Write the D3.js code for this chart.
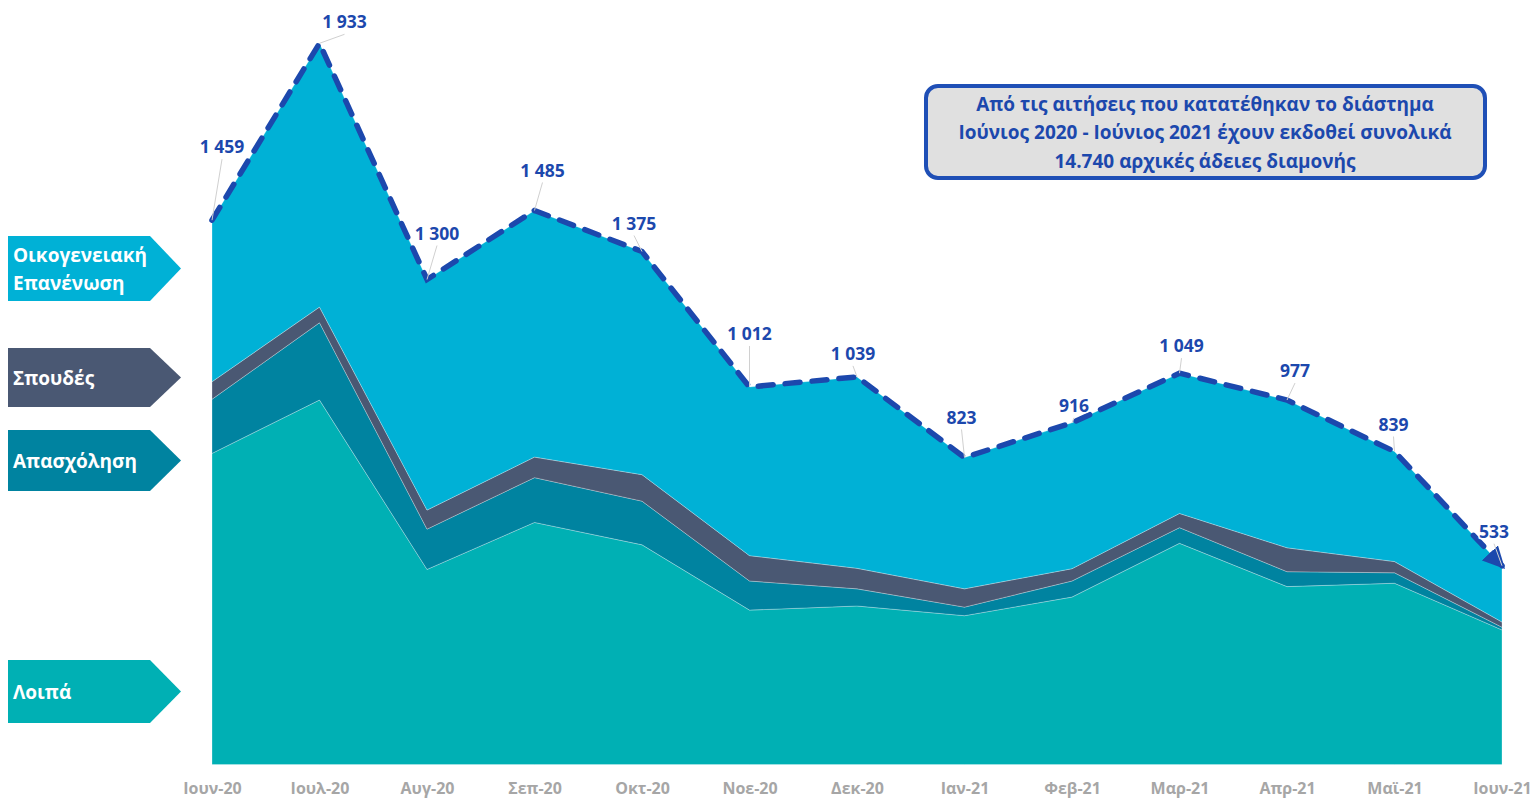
<!DOCTYPE html>
<html>
<head>
<meta charset="utf-8">
<script src="https://cdn.jsdelivr.net/npm/d3@7"></script>
<style>
  body { margin: 0; background: #fff; }
  svg { display: block; font-family: "Open Sans", sans-serif; }
</style>
</head>
<body>
<div id="chart"></div>
<script>
// chart size
const width = 1536;
const height = 801;

// months on the x axis
const months = ["Ιουν-20", "Ιουλ-20", "Αυγ-20", "Σεπ-20", "Οκτ-20", "Νοε-20", "Δεκ-20",
  "Ιαν-21", "Φεβ-21", "Μαρ-21", "Απρ-21", "Μαϊ-21", "Ιουν-21"];

// series values
const loipa      = [834, 977, 523, 649, 589, 414, 425, 399, 449, 593, 477, 486, 361];
const apasxolisi = [145, 207, 108, 120, 117,  78,  46,  23,  43,  42,  40,  28,   7];
const spoudes    = [ 47,  42,  51,  55,  71,  68,  55,  49,  33,  38,  64,  30,  14];
const oikogeneia = [433, 707, 618, 661, 598, 452, 513, 352, 391, 376, 396, 295, 151];
const totals     = [1459, 1933, 1300, 1485, 1375, 1012, 1039, 823, 916, 1049, 977, 839, 533];

// where each total label sits relative to its point [dx, dy]
const labelOffsets = [[10, -73], [25, -21], [10, -46], [8, -40], [-8, -28], [0, -53], [-4, -23],
  [-3, -40], [2, -17], [2, -27], [8, -29], [-1, -27], [-8, -34]];

// layer names / colors (bottom to top)
const layers = [
  {key: "loipa", name: ["Λοιπά"], color: "#00b0b4", legendY: [660, 723]},
  {key: "apasxolisi", name: ["Απασχόληση"], color: "#0083a0", legendY: [430, 491]},
  {key: "spoudes", name: ["Σπουδές"], color: "#4a5873", legendY: [348, 407]},
  {key: "oikogeneia", name: ["Οικογενειακή", "Επανένωση"], color: "#00b1d6", legendY: [236, 301]}
];

const boxText = [
  "Από τις αιτήσεις που κατατέθηκαν  το διάστημα",
  "Ιούνιος 2020 - Ιούνιος 2021 έχουν εκδοθεί συνολικά",
  "14.740 αρχικές άδειες διαμονής"
];

const blue = "#1c48ad";

const svg = d3.select("#chart")
  .append("svg")
  .attr("width", width)
  .attr("height", height);

// table for the stack
const table = months.map((m, i) => ({
  month: m,
  loipa: loipa[i],
  apasxolisi: apasxolisi[i],
  spoudes: spoudes[i],
  oikogeneia: oikogeneia[i]
}));

const x = d3.scalePoint()
  .domain(months)
  .range([212, 1502]);

const y = d3.scaleLinear()
  .domain([0, 2000])
  .range([764.6, 18.3]);

const stack = d3.stack().keys(layers.map(d => d.key));
const series = stack(table);

const area = d3.area()
  .x(d => x(d.data.month))
  .y0(d => y(d[0]))
  .y1(d => y(d[1]));

svg.selectAll(".layer")
  .data(series)
  .enter()
  .append("path")
  .attr("class", "layer")
  .attr("d", area)
  .attr("fill", (d, i) => layers[i].color)
  .attr("stroke", "rgba(255,255,255,0.35)")
  .attr("stroke-width", 0.8);

// arrow head at the end of the total line
svg.append("defs")
  .append("marker")
  .attr("id", "arrow")
  .attr("viewBox", "0 0 10 10")
  .attr("refX", 8)
  .attr("refY", 5)
  .attr("markerWidth", 4)
  .attr("markerHeight", 4)
  .attr("markerUnits", "strokeWidth")
  .attr("orient", "auto")
  .append("path")
  .attr("d", "M0,0 L10,5 L0,10 z")
  .attr("fill", blue);

// dashed total line
const line = d3.line()
  .x((d, i) => x(months[i]))
  .y(d => y(d));

svg.append("path")
  .datum(totals)
  .attr("d", line)
  .attr("fill", "none")
  .attr("stroke", blue)
  .attr("stroke-width", 5.5)
  .attr("stroke-dasharray", "15,12")
  .attr("stroke-linecap", "round")
  .attr("marker-end", "url(#arrow)");

// leader lines + labels for totals
const fmt = v => d3.format(",")(v).replace(",", " ");

svg.selectAll(".leader")
  .data(totals)
  .enter()
  .append("line")
  .attr("class", "leader")
  .attr("x1", (d, i) => x(months[i]))
  .attr("y1", d => y(d))
  .attr("x2", (d, i) => x(months[i]) + labelOffsets[i][0])
  .attr("y2", (d, i) => y(d) + labelOffsets[i][1] + 12)
  .attr("stroke", "#d0d0d0")
  .attr("stroke-width", 1);

svg.selectAll(".totLabel")
  .data(totals)
  .enter()
  .append("text")
  .attr("class", "totLabel")
  .attr("x", (d, i) => x(months[i]) + labelOffsets[i][0])
  .attr("y", (d, i) => y(d) + labelOffsets[i][1])
  .attr("dy", "0.35em")
  .attr("text-anchor", "middle")
  .attr("font-size", "17.5px")
  .attr("font-weight", "bold")
  .attr("fill", blue)
  .attr("stroke", "#fff")
  .attr("stroke-width", 3)
  .attr("paint-order", "stroke")
  .text(d => fmt(d));

// x axis
const xAxis = svg.append("g")
  .attr("transform", "translate(0,783)")
  .call(d3.axisBottom(x).tickSize(0).tickPadding(0));
xAxis.select(".domain").remove();
xAxis.selectAll("text")
  .attr("font-family", "'Open Sans', sans-serif")
  .attr("font-size", "16px")
  .attr("font-weight", "bold")
  .attr("fill", "#a6a6a6");

// legend arrows on the left
const legend = svg.selectAll(".legend")
  .data(layers)
  .enter()
  .append("g")
  .attr("class", "legend");

legend.append("path")
  .attr("d", d => {
    const t = d.legendY[0], b = d.legendY[1], m = (t + b) / 2;
    return `M8,${t} L150,${t} L181,${m} L150,${b} L8,${b} Z`;
  })
  .attr("fill", d => d.color);

legend.each(function(d) {
  const g = d3.select(this);
  const m = (d.legendY[0] + d.legendY[1]) / 2;
  const n = d.name.length;
  d.name.forEach((s, j) => {
    g.append("text")
      .attr("x", 13)
      .attr("y", m + (j - (n - 1) / 2) * 28 + 1)
      .attr("dy", "0.35em")
      .attr("font-size", "19px")
      .attr("font-weight", "bold")
      .attr("fill", "#fff")
      .text(s);
  });
});

// info box
svg.append("rect")
  .attr("x", 926)
  .attr("y", 86)
  .attr("width", 559)
  .attr("height", 92)
  .attr("rx", 12)
  .attr("fill", "#e0e0e0")
  .attr("stroke", "#1f4fb6")
  .attr("stroke-width", 4);

svg.selectAll(".boxText")
  .data(boxText)
  .enter()
  .append("text")
  .attr("class", "boxText")
  .attr("x", 1205)
  .attr("y", (d, i) => 104 + i * 28.5)
  .attr("dy", "0.35em")
  .attr("text-anchor", "middle")
  .attr("font-size", "19px")
  .attr("font-weight", "bold")
  .attr("fill", blue)
  .text(d => d);
</script>
</body>
</html>
